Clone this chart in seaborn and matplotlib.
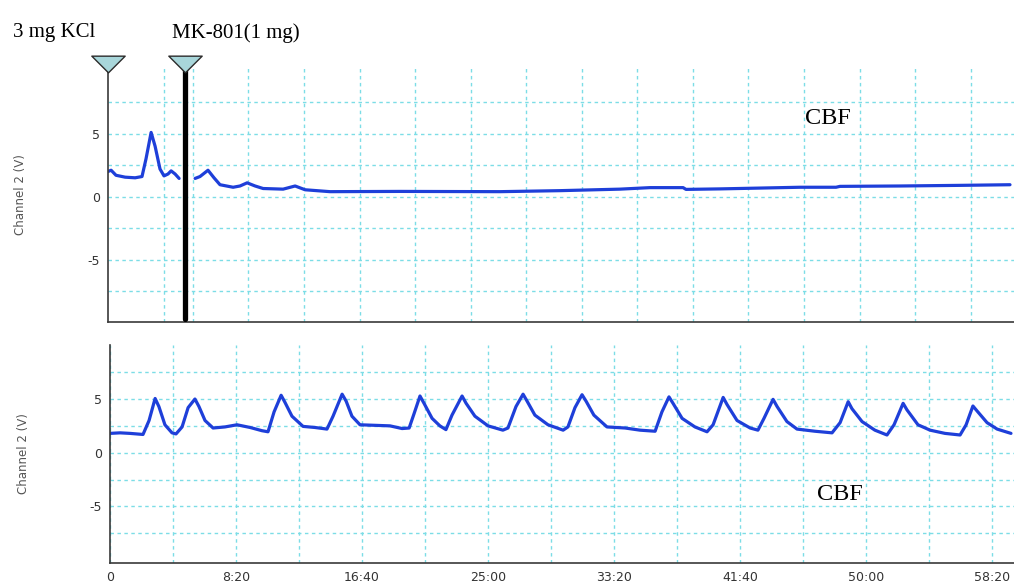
import numpy as np
import pandas as pd
import matplotlib
matplotlib.use("Agg")
import matplotlib.pyplot as plt
from matplotlib.path import Path
import seaborn as sns

# ---- upper trace: KCl response, then MK-801 (time in s, CBF signal in V) ----
top_seg1_t = [0, 14, 36, 77, 122, 153, 171, 194, 212, 234, 252, 270, 284, 302, 320]
top_seg1_v = [2.0, 2.1, 1.7, 1.55, 1.5, 1.6, 3.0, 5.1, 4.0, 2.2, 1.65, 1.8, 2.05, 1.8, 1.45]

top_seg2_t = [392, 414, 450, 477, 504, 563, 594, 626, 662, 698, 788, 842, 887, 999,
              1314, 1764, 2034, 2304, 2439, 2588, 2601, 2754, 3114, 3276, 3294, 3564,
              3834, 4059]
top_seg2_v = [1.45, 1.6, 2.1, 1.5, 0.95, 0.75, 0.85, 1.1, 0.85, 0.65, 0.6, 0.85, 0.55, 0.4,
              0.42, 0.4, 0.48, 0.6, 0.72, 0.72, 0.58, 0.62, 0.75, 0.75, 0.82, 0.85,
              0.9, 0.95]

# ---- lower trace: spontaneous CBF oscillations ----
bot_t = [0, 40, 79, 131, 155, 179, 194, 218, 246, 262, 286, 310, 337, 353, 377, 409,
         456, 504, 556, 603, 627, 651, 679, 694, 722, 766, 813, 861, 885, 921, 937,
         960, 992, 1052, 1111, 1159, 1187, 1206, 1230, 1246, 1278, 1309, 1333, 1357,
         1397, 1413, 1448, 1500, 1559, 1579, 1611, 1639, 1655, 1686, 1738, 1798, 1817,
         1845, 1873, 1889, 1920, 1972, 2044, 2103, 2163, 2190, 2218, 2234, 2270, 2321,
         2369, 2393, 2433, 2448, 2488, 2540, 2571, 2595, 2631, 2647, 2686, 2726, 2797,
         2865, 2897, 2929, 2944, 2984, 3035, 3083, 3111, 3147, 3162, 3206, 3254, 3313,
         3373, 3397, 3424, 3440, 3480, 3520, 3575]
bot_v = [1.8, 1.85, 1.8, 1.7, 3.0, 5.05, 4.3, 2.6, 1.85, 1.75, 2.4, 4.2, 5.0, 4.3, 3.0, 2.3,
         2.4, 2.6, 2.35, 2.05, 1.95, 3.8, 5.35, 4.7, 3.4, 2.45, 2.35, 2.2, 3.4, 5.45, 4.8,
         3.4, 2.6, 2.55, 2.5, 2.25, 2.3, 3.6, 5.28, 4.6, 3.2, 2.5, 2.15, 3.5,
         5.28, 4.6, 3.4, 2.5, 2.1, 2.3, 4.3, 5.45, 4.8, 3.5, 2.6, 2.1, 2.4,
         4.2, 5.4, 4.8, 3.5, 2.4, 2.3, 2.1, 2.0, 3.8, 5.2, 4.6, 3.2, 2.4,
         1.95, 2.6, 5.15, 4.5, 3.0, 2.3, 2.1, 3.2, 4.97, 4.3, 2.9, 2.2, 2.0,
         1.85, 2.8, 4.75, 4.1, 2.9, 2.1, 1.65, 2.6, 4.6, 4.0, 2.6, 2.1, 1.8,
         1.65, 2.6, 4.35, 3.9, 2.8, 2.2, 1.8]

# ---- events and labels ----
event_names = ["3 mg KCl", "MK-801(1 mg)"]
event_times = [0, 345]
bot_major = [0, 500, 1000, 1500, 2000, 2500, 3000, 3500]
bot_labels = ["0", "8:20", "16:40", "25:00", "33:20", "41:40", "50:00", "58:20"]
y_major = [-5, 0, 5]
y_minor = [-7.5, -2.5, 2.5, 7.5]

top_df = pd.concat([
    pd.DataFrame({"t": top_seg1_t, "v": top_seg1_v, "seg": 0}),
    pd.DataFrame({"t": top_seg2_t, "v": top_seg2_v, "seg": 1}),
])
bot_df = pd.DataFrame({"t": bot_t, "v": bot_v})

sns.set_theme(style="white")
plt.rcParams["font.family"] = ["DejaVu Sans"]

TRACE = "#1e3fd9"
GRID = "#7cdde6"
AXC = "#3a3a3a"

fig = plt.figure(figsize=(10.14, 5.87), dpi=100)
W, H = 1014, 587


def px_axes(left, top, right, bottom):
    return fig.add_axes([left / W, 1 - bottom / H, (right - left) / W, (bottom - top) / H])


ax1 = px_axes(108, 67, 1014, 322)
ax2 = px_axes(110, 345, 1014, 563)

sns.lineplot(data=top_df, x="t", y="v", units="seg", estimator=None,
             color=TRACE, linewidth=2.3, ax=ax1)
sns.lineplot(data=bot_df, x="t", y="v", color=TRACE, linewidth=2.3, ax=ax2)

# upper panel: unlabeled time ticks
top_ticks = [250] + list(range(382, 4060, 250))
ax1.set_xticks(top_ticks)
ax1.set_xticklabels([])

ax2.set_xticks(bot_major)
ax2.set_xticklabels(bot_labels)
ax2.set_xticks([t + 250 for t in bot_major], minor=True)

for ax in (ax1, ax2):
    ax.set_yticks(y_major)
    ax.set_yticklabels(["-5", "0", "5"])
    ax.set_yticks(y_minor, minor=True)
    ax.grid(True, which="both", color=GRID, linestyle=(0, (2.5, 2.5)), linewidth=1.0)
    ax.set_axisbelow(True)
    for s in ("top", "right"):
        ax.spines[s].set_visible(False)
    for s in ("left", "bottom"):
        ax.spines[s].set_color(AXC)
        ax.spines[s].set_linewidth(1.2)
    ax.tick_params(axis="both", which="both", direction="out", length=3.5, width=1,
                   color=AXC, labelsize=9, labelcolor="#333333", pad=2)
    ax.tick_params(axis="y", which="minor", length=0)
    ax.set_xlabel("")
    ax.set_ylabel("Channel 2 (V)", fontsize=8.5, color="#555555")
    ax.yaxis.set_label_coords(-0.089, 0.5)

ax2.tick_params(axis="x", which="major", pad=2)

# view limits are set after the ticks so the tick lists cannot widen them
ax1.set_xlim(0, 4077)
ax1.set_ylim(-9.94, 10.29)
ax2.set_xlim(0, 3587)
ax2.set_ylim(-10.27, 10.03)

# injection markers
tri = Path([(-1.0, 0.5), (1.0, 0.5), (0.0, -0.5), (-1.0, 0.5)],
           [Path.MOVETO, Path.LINETO, Path.LINETO, Path.CLOSEPOLY])
for t in event_times:
    ax1.plot([t], [1.0137], marker=tri, markersize=24, markerfacecolor="#a8d6da",
             markeredgecolor="#2b2b2b", markeredgewidth=1.0, linestyle="none",
             transform=ax1.get_xaxis_transform(), clip_on=False, zorder=6)
ax1.axvline(event_times[1], ymin=0.01, ymax=1.0, color="black", linewidth=3.8, zorder=5)

serif = ["Liberation Serif", "DejaVu Serif"]
fig.text(13 / W, 1 - 33 / H, event_names[0], family=serif, fontsize=15,
         color="black", va="center", ha="left")
fig.text(172 / W, 1 - 33 / H, event_names[1], family=serif, fontsize=15,
         color="black", va="center", ha="left")
fig.text(805 / W, 1 - 119 / H, "CBF", family=serif, fontsize=17.5,
         color="black", va="center", ha="left")
fig.text(817 / W, 1 - 495 / H, "CBF", family=serif, fontsize=17.5,
         color="black", va="center", ha="left")

fig.savefig("out.png", dpi=100)
